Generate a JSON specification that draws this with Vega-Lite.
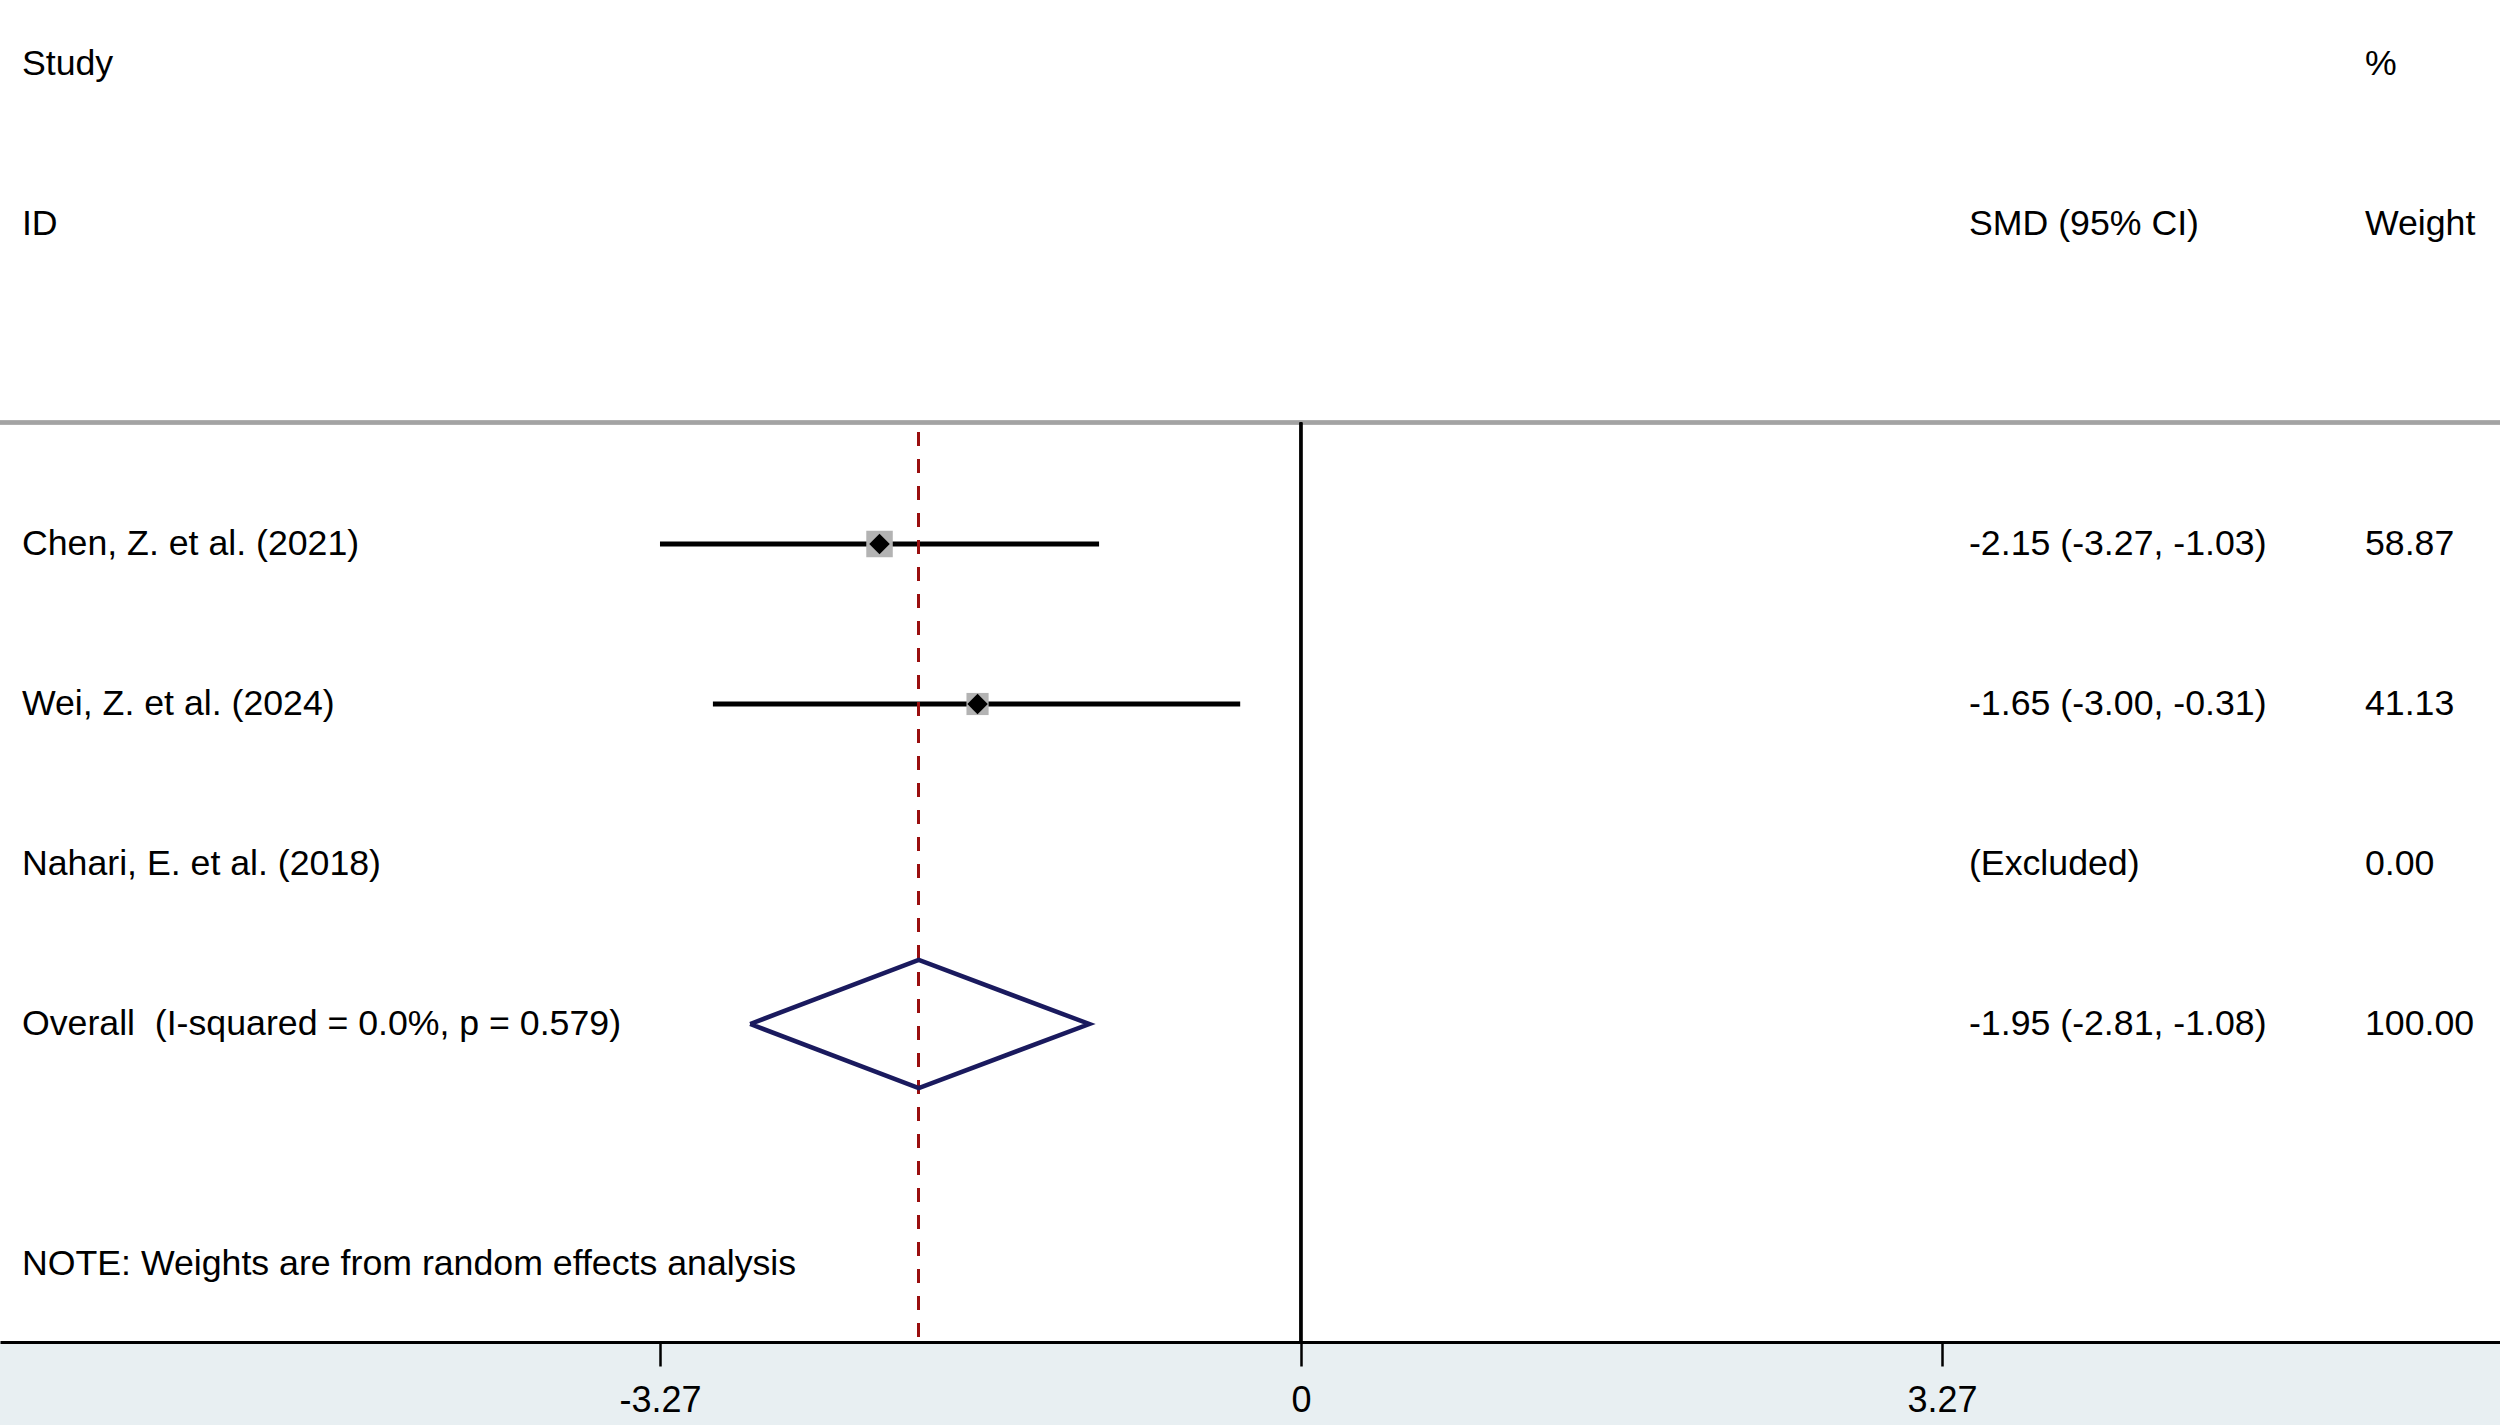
{
  "$schema": "https://vega.github.io/schema/vega-lite/v6.json",
  "width": 2500,
  "height": 1342,
  "padding": {"left": 0, "right": 0, "top": 0, "bottom": 83},
  "autosize": {"type": "none"},
  "background": "#e8eff2",
  "config": {
    "view": {"fill": "white", "stroke": null},
    "font": "Liberation Sans",
    "text": {"font": "Liberation Sans", "fontSize": 35.7, "color": "black", "align": "left", "baseline": "middle"}
  },
  "datasets": {
    "rows": [
      {"study": "Study", "row": 1, "wlabel": "%"},
      {"study": "ID", "row": 2, "smd": "SMD (95% CI)", "wlabel": "Weight"},
      {"study": "Chen, Z. et al. (2021)", "row": 4, "es": -2.15, "lo": -3.27, "hi": -1.03, "weight": 58.87, "smd": "-2.15 (-3.27, -1.03)", "wlabel": "58.87"},
      {"study": "Wei, Z. et al. (2024)", "row": 5, "es": -1.65, "lo": -3.00, "hi": -0.31, "weight": 41.13, "smd": "-1.65 (-3.00, -0.31)", "wlabel": "41.13"},
      {"study": "Nahari, E. et al. (2018)", "row": 6, "smd": "(Excluded)", "wlabel": "0.00"},
      {"study": "Overall \u00a0(I-squared = 0.0%, p = 0.579)", "row": 7, "smd": "-1.95 (-2.81, -1.08)", "wlabel": "100.00"},
      {"study": "NOTE: Weights are from random effects analysis", "row": 8.5}
    ],
    "diamond": [
      {"x": -2.81, "y": 7, "o": 1},
      {"x": -1.95, "y": 6.6, "o": 2},
      {"x": -1.08, "y": 7, "o": 3},
      {"x": -1.95, "y": 7.4, "o": 4},
      {"x": -2.81, "y": 7, "o": 5}
    ]
  },
  "encoding": {
    "x": {
      "type": "quantitative",
      "scale": {"domain": [-6.637, 6.117], "nice": false, "zero": false},
      "axis": {
        "orient": "bottom",
        "values": [-3.27, 0, 3.27],
        "labelExpr": "'' + datum.value",
        "title": null,
        "grid": false,
        "domainColor": "black",
        "domainWidth": 3,
        "tickColor": "black",
        "tickWidth": 2.5,
        "tickSize": 24,
        "labelFontSize": 36,
        "labelFont": "Liberation Sans",
        "labelColor": "black",
        "labelPadding": 17
      }
    },
    "y": {
      "type": "quantitative",
      "scale": {"domain": [0.6, 8.9875], "nice": false, "zero": false, "reverse": true},
      "axis": null
    }
  },
  "layer": [
    {
      "data": {"name": "rows"},
      "mark": {"type": "rule", "color": "#a3a3a3", "strokeWidth": 3.5},
      "encoding": {"x": null, "y": {"datum": 3.24}}
    },
    {
      "data": {"name": "rows"},
      "mark": {"type": "rule", "color": "black", "strokeWidth": 2.5},
      "encoding": {"x": {"datum": 0}, "y": {"datum": 3.24}, "y2": {"datum": 8.9875}}
    },
    {
      "data": {"name": "rows"},
      "transform": [{"filter": "isValid(datum.lo)"}],
      "mark": {"type": "rule", "color": "black", "strokeWidth": 5},
      "encoding": {"x": {"field": "lo"}, "x2": {"field": "hi"}, "y": {"field": "row"}}
    },
    {
      "data": {"name": "rows"},
      "mark": {"type": "rule", "color": "#9a0f0f", "strokeWidth": 2.5, "strokeDash": [14, 13]},
      "encoding": {"x": {"datum": -1.95}, "y": {"datum": 3.3}, "y2": {"datum": 8.9875}}
    },
    {
      "data": {"name": "rows"},
      "transform": [{"filter": "isValid(datum.es)"}],
      "mark": {"type": "point", "shape": "square", "filled": true, "color": "#b3b3b3", "opacity": 1},
      "encoding": {
        "x": {"field": "es"},
        "y": {"field": "row"},
        "size": {"field": "weight", "type": "quantitative", "scale": {"domain": [0, 58.87], "range": [0, 702]}, "legend": null}
      }
    },
    {
      "data": {"name": "rows"},
      "transform": [{"filter": "isValid(datum.es)"}],
      "mark": {"type": "point", "shape": "diamond", "filled": true, "color": "black", "opacity": 1, "size": 420},
      "encoding": {"x": {"field": "es"}, "y": {"field": "row"}}
    },
    {
      "data": {"name": "diamond"},
      "mark": {"type": "line", "color": "#1a1a5e", "strokeWidth": 4.5, "strokeJoin": "miter"},
      "encoding": {"x": {"field": "x"}, "y": {"field": "y"}, "order": {"field": "o"}}
    },
    {
      "data": {"name": "rows"},
      "mark": {"type": "text"},
      "encoding": {"x": {"datum": -6.525}, "y": {"field": "row"}, "text": {"field": "study"}}
    },
    {
      "data": {"name": "rows"},
      "transform": [{"filter": "isValid(datum.smd)"}],
      "mark": {"type": "text"},
      "encoding": {"x": {"datum": 3.408}, "y": {"field": "row"}, "text": {"field": "smd"}}
    },
    {
      "data": {"name": "rows"},
      "transform": [{"filter": "isValid(datum.wlabel)"}],
      "mark": {"type": "text"},
      "encoding": {"x": {"datum": 5.428}, "y": {"field": "row"}, "text": {"field": "wlabel"}}
    }
  ]
}
